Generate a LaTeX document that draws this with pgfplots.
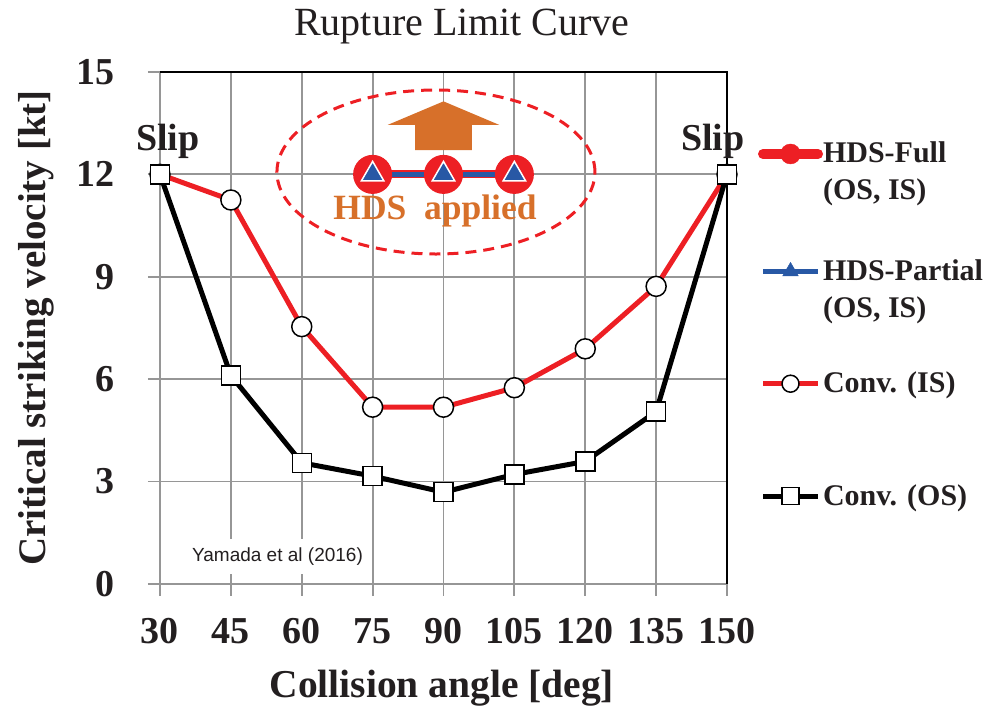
\documentclass[border=0pt]{standalone}
\usepackage{fontspec}
\setmainfont{Liberation Serif}
\newfontfamily\sansf{Liberation Sans}
\usepackage{pgfplots}
\pgfplotsset{compat=1.18}
\definecolor{cred}{RGB}{237,31,36}
\definecolor{cblue}{RGB}{40,88,165}
\definecolor{corange}{RGB}{215,112,42}
\definecolor{cgrid}{RGB}{150,150,150}
\definecolor{ctext}{RGB}{35,31,32}
\begin{document}
\begin{tikzpicture}
\path[use as bounding box] (-160pt,-122pt) rectangle (825pt,584pt);
\begin{axis}[
  at={(0pt,0pt)}, anchor=south west,
  scale only axis, width=567pt, height=512pt,
  xmin=30, xmax=150, ymin=0, ymax=15,
  xtick={30,45,...,150}, ytick={0,3,...,15},
  axis x line*=bottom, axis y line*=left,
  axis line style={draw=cgrid, line width=1.8pt},
  grid=major, grid style={draw=cgrid, line width=1.8pt},
  tick align=outside, major tick length=12pt,
  tick style={draw=cgrid, line width=1.8pt},
  /pgf/number format/assume math mode=true,
  ticklabel style={font=\fontsize{38}{44}\selectfont\bfseries, text=ctext, inner sep=0pt},
  xticklabel style={anchor=base, yshift=-47pt},
  yticklabel style={anchor=east, xshift=-33pt},
  xlabel={Collision angle [deg]},
  ylabel={Critical striking velocity [kt]},
  every axis x label/.style={at={(axis description cs:0.497,-0.2207)}, anchor=base, font=\fontsize{39.5}{46}\selectfont\bfseries, text=ctext},
  every axis y label/.style={at={(axis description cs:-0.2011,0.5)}, rotate=90, anchor=base, font=\fontsize{39}{46}\selectfont\bfseries, text=ctext},
  title={Rupture Limit Curve},
  title style={at={(axis description cs:0.5326,1.0605)}, anchor=base, font=\fontsize{40}{46}\selectfont, text=ctext},
  clip=false,
  legend style={at={(axis description cs:1.0547,0.8729)}, anchor=north west, draw=none, fill=none,
    inner sep=0pt, outer sep=0pt, row sep=90pt, column sep=0pt,
    font=\fontsize{30}{37}\selectfont\bfseries, text=ctext,
    nodes={inner sep=0pt}, cells={anchor=base west}},
]
% black top and right borders
\draw[black, line width=2.5pt] (rel axis cs:0,1) -- (rel axis cs:1,1) -- (rel axis cs:1,0);

% Conv. (IS)
\addplot[forget plot, color=cred, line width=5pt, mark=*, mark size=10pt,
  mark options={fill=white, draw=black, line width=1.5pt}]
  coordinates {(30,12) (45,11.25) (60,7.54) (75,5.18) (90,5.18) (105,5.75) (120,6.89) (135,8.72) (150,12)};
% Conv. (OS)
\addplot[forget plot, color=black, line width=5pt, mark=square*, mark size=9.5pt,
  mark options={fill=white, draw=black, line width=1.5pt}]
  coordinates {(30,12) (45,6.11) (60,3.55) (75,3.16) (90,2.69) (105,3.21) (120,3.59) (135,5.05) (150,12)};
% HDS-Full
\addplot[forget plot, color=cred, line width=8pt, mark=*, mark size=15.5pt,
  mark options={fill=cred, draw=none}]
  coordinates {(75,12) (90,12) (105,12)};
% HDS-Partial
\addplot[forget plot, color=cblue, line width=4.5pt, mark=triangle*, mark size=13pt,
  mark options={fill=cblue, draw=white, line width=1.5pt}]
  coordinates {(75,12) (90,12) (105,12)};

% annotations
\draw[cred, line width=3pt, dash pattern=on 11pt off 7pt] (axis cs:88.4,12.07) ellipse [x radius=159pt, y radius=82pt];
\fill[corange] (axis cs:90,14.14) -- (axis cs:101.8,13.45) -- (axis cs:96,13.45) -- (axis cs:96,12.71)
  -- (axis cs:84,12.71) -- (axis cs:84,13.45) -- (axis cs:78.2,13.45) -- cycle;
\node[anchor=base, text=corange, font=\fontsize{35.5}{40}\selectfont\bfseries, inner sep=0pt] at (axis cs:88.2,10.69) {HDS\ \ applied};
\node[anchor=base, text=ctext, font=\fontsize{38}{44}\selectfont\bfseries, inner sep=0pt] at (axis cs:31.65,12.7) {Slip};
\node[anchor=base, text=ctext, font=\fontsize{38}{44}\selectfont\bfseries, inner sep=0pt] at (axis cs:147,12.7) {Slip};
\node[anchor=base west, fill=white, text=ctext, font=\sansf\fontsize{19}{22}\selectfont, inner xsep=5pt, inner ysep=9pt] at (axis cs:35.7,0.66) {Yamada et al (2016)};

% legend
\addlegendimage{legend image code/.code={
  \draw[cred, line width=10pt, line cap=round] (0pt,9pt) -- (55pt,9pt);
  \fill[cred] (27.5pt,9pt) circle (10pt);}}
\addlegendentry{\begin{tabular}[t]{@{}l@{}}HDS-Full\\(OS, IS)\end{tabular}}
\addlegendimage{legend image code/.code={
  \draw[cblue, line width=5pt] (0pt,9pt) -- (55pt,9pt);
  \fill[cblue] (27.5pt,9pt) +(90:9pt) -- +(210:9pt) -- +(330:9pt) -- cycle;}}
\addlegendentry{\begin{tabular}[t]{@{}l@{}}HDS-Partial\\(OS, IS)\end{tabular}}
\addlegendimage{legend image code/.code={
  \draw[cred, line width=5pt] (0pt,9pt) -- (55pt,9pt);
  \draw[black, fill=white, line width=1.5pt] (27.5pt,9pt) circle (8.5pt);}}
\addlegendentry{Conv. (IS)}
\addlegendimage{legend image code/.code={
  \draw[black, line width=5pt] (0pt,9pt) -- (55pt,9pt);
  \draw[black, fill=white, line width=1.5pt] (19pt,0.5pt) rectangle (36pt,17.5pt);}}
\addlegendentry{Conv. (OS)}
\end{axis}
\end{tikzpicture}
\end{document}
